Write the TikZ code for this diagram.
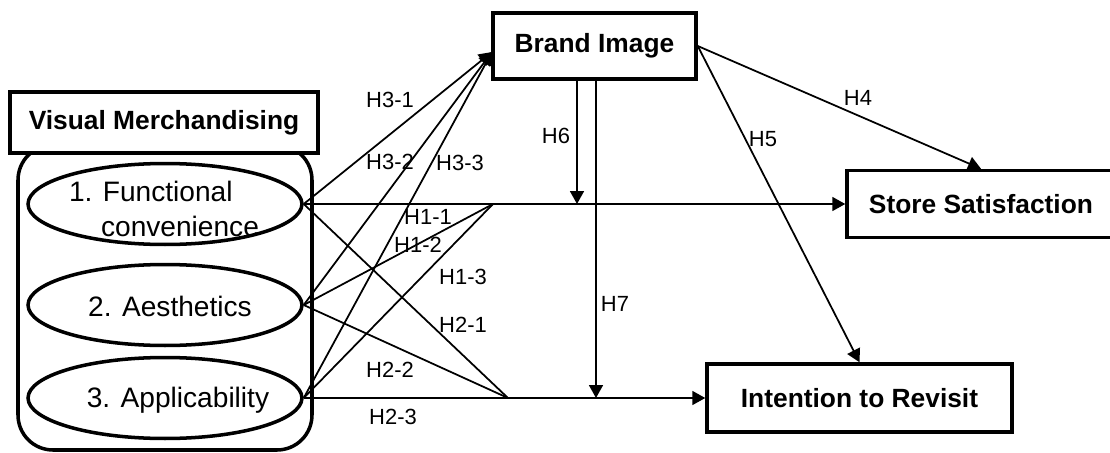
\documentclass[tikz,border=0pt]{standalone}
\usepackage{fontspec}
\setmainfont{Liberation Sans}
\usetikzlibrary{arrows.meta,shapes.geometric}
\tikzset{
  varbox/.style={draw, line width=2pt, inner sep=0pt, font=\fontsize{15}{18}\selectfont\bfseries},
  dimell/.style={draw, ellipse, line width=2pt, inner sep=0pt, minimum width=5.48cm, minimum height=1.62cm},
  dimtxt/.style={inner sep=0pt, align=left, font=\fontsize{16}{20}\selectfont},
  link/.style={line width=1pt},
  arr/.style={link, -{Triangle[length=0.26cm,width=0.28cm]}},
  hyp/.style={inner sep=0pt, font=\fontsize{12.5}{14}\selectfont}
}
\begin{document}
\begin{tikzpicture}[x=0.02cm,y=-0.02cm]
\useasboundingbox (0,0) rectangle (1110,453);
% visual merchandising with its three dimensions
\draw[line width=2pt, rounded corners=0.7cm] (18,145) rectangle (312,450);
\node[varbox, fill=white, minimum width=6.16cm, minimum height=1.22cm] (vm) at (164,122.5) {Visual Merchandising};
\node[dimell] (e1) at (165,204) {};
\node[dimell] (e2) at (165,305) {};
\node[dimell] (e3) at (165,398) {};
\node[dimtxt] (t1) at (164,209) {1. Functional\\\hspace*{0.64cm}convenience};
\node[dimtxt] (t2) at (170,306) {2. Aesthetics};
\node[dimtxt] (t3) at (178,400) {3. Applicability};
% outcome variables
\node[varbox, minimum width=4.06cm, minimum height=1.32cm] (bi) at (594.5,46) {Brand Image};
\node[varbox, minimum width=5.36cm, minimum height=1.34cm] (ss) at (981,204) {Store Satisfaction};
\node[varbox, minimum width=6.1cm, minimum height=1.36cm] (ir) at (859.5,398) {Intention to Revisit};
\coordinate (bin) at (492,52);
\coordinate (j1) at (493,204);
\coordinate (j2) at (508,398);
\coordinate (h6) at (577,204);
\coordinate (h7) at (596,398);
% paths
\foreach \e in {e1,e2,e3}
  \draw[arr] (\e.east) -- (bin);
\draw[arr] (e1.east) -- (ss.west);
\draw[arr] (e3.east) -- (ir.west);
\draw[link] (e2.east) -- (j1);
\draw[link] (e3.east) -- (j1);
\draw[link] (e1.east) -- (j2);
\draw[link] (e2.east) -- (j2);
\draw[arr] (bi.south -| h6) -- (h6);
\draw[arr] (bi.south -| h7) -- (h7);
\draw[arr] (bi.east) -- (ss.north);
\draw[arr] (bi.east) -- (ir.north);
% hypothesis labels
\node[hyp] (l31) at (390,100) {H3-1};
\node[hyp] (l32) at (390,162) {H3-2};
\node[hyp] (l33) at (460,163) {H3-3};
\node[hyp] (l11) at (428,217) {H1-1};
\node[hyp] (l12) at (418,245) {H1-2};
\node[hyp] (l13) at (463,277) {H1-3};
\node[hyp] (l21) at (463,325) {H2-1};
\node[hyp] (l22) at (390,370) {H2-2};
\node[hyp] (l23) at (393,417) {H2-3};
\node[hyp] (l6) at (556,136) {H6};
\node[hyp] (l7) at (615,304) {H7};
\node[hyp] (l4) at (858,98) {H4};
\node[hyp] (l5) at (763,139) {H5};
\end{tikzpicture}
\end{document}
